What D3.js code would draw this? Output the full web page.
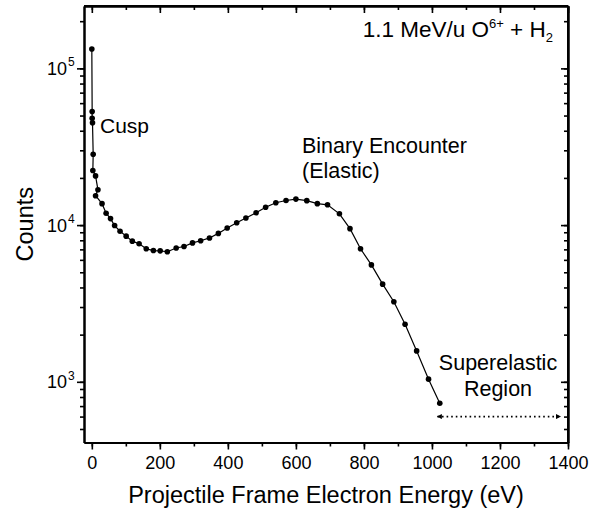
<!DOCTYPE html>
<html>
<head>
<meta charset="utf-8">
<script src="https://cdn.jsdelivr.net/npm/d3@7"></script>
<style>
  body { margin: 0; background: #fff; }
  svg { font-family: "Liberation Sans", Arial, Helvetica, sans-serif; }
  .axis path, .axis line { stroke: #000; }
  .axis path { stroke-width: 2; }
  .axis line { stroke-width: 1.6; }
</style>
</head>
<body>
<svg width="608" height="518"></svg>
<script>
// electron energy (eV) and counts
const energy = [0, 1, 1, 2, 4, 3, 11, 18, 11, 30, 42, 55, 67, 83, 101, 119, 139, 160, 181, 201,
  222, 248, 271, 296, 320, 346, 372, 398, 426, 453, 483, 511, 541, 571, 600, 632, 663, 693,
  728, 759, 790, 822, 855, 888, 921, 955, 990, 1023];
const counts = [133000, 53000, 48000, 45000, 28300, 22300, 20600, 16800, 15400, 13700, 11900, 11000,
  9930, 9130, 8500, 7900, 7600, 7060, 6880, 6850, 6760, 7140, 7300, 7700, 7950, 8280, 8850, 9590,
  10350, 11100, 12000, 13000, 13880, 14350, 14650, 14320, 13700, 13470, 11800, 9490, 7060, 5570,
  4200, 3240, 2330, 1575, 1040, 730];

const xTicks = [0, 200, 400, 600, 800, 1000, 1200, 1400];
const yTickExps = [3, 4, 5];

const mLeft = 84, mRight = 568, mTop = 6, mBottom = 442.5;

const svg = d3.select('svg');

const x = d3.scaleLinear().domain([-23, 1400]).range([mLeft, mRight]);
const y = d3.scaleLog().domain([410, 250000]).range([mBottom, mTop]);

const minorX = d3.range(0, 1401, 100);
const minorY = [];
[100, 1000, 10000, 100000].forEach((d) => {
    for (let k = 1; k < 10; k++) {
        const v = d * k;
        if (v >= 410 && v <= 250000) minorY.push(v);
    }
});

// minor ticks first, then major ticks with the frame
svg.append('g').attr('class', 'axis')
    .attr('transform', `translate(0, ${mBottom})`)
    .call(d3.axisBottom(x).tickValues(minorX).tickSize(4).tickSizeOuter(0).tickFormat(''));
svg.append('g').attr('class', 'axis')
    .attr('transform', `translate(0, ${mTop})`)
    .call(d3.axisBottom(x).tickValues(minorX).tickSize(4).tickSizeOuter(0).tickFormat(''));
svg.append('g').attr('class', 'axis')
    .attr('transform', `translate(${mLeft}, 0)`)
    .call(d3.axisLeft(y).tickValues(minorY).tickSize(4).tickSizeOuter(0).tickFormat(''));
svg.append('g').attr('class', 'axis')
    .attr('transform', `translate(${mRight}, 0)`)
    .call(d3.axisLeft(y).tickValues(minorY).tickSize(4).tickSizeOuter(0).tickFormat(''));

const xAxis = svg.append('g').attr('class', 'axis')
    .attr('transform', `translate(0, ${mBottom})`)
    .call(d3.axisBottom(x).tickValues(xTicks).tickSize(7).tickSizeOuter(0).tickPadding(7)
        .tickFormat(d3.format('d')));
xAxis.selectAll('text')
    .attr('font-size', 18)
    .attr('font-family', '"Liberation Sans", Arial, sans-serif')
    .attr('fill', '#000');

svg.append('g').attr('class', 'axis')
    .attr('transform', `translate(0, ${mTop})`)
    .call(d3.axisBottom(x).tickValues(xTicks).tickSize(7).tickSizeOuter(0).tickFormat(''));

svg.append('g').attr('class', 'axis')
    .attr('transform', `translate(${mLeft}, 0)`)
    .call(d3.axisLeft(y).tickValues(yTickExps.map((e) => Math.pow(10, e))).tickSize(7).tickSizeOuter(0).tickFormat(''));
svg.append('g').attr('class', 'axis')
    .attr('transform', `translate(${mRight}, 0)`)
    .call(d3.axisLeft(y).tickValues(yTickExps.map((e) => Math.pow(10, e))).tickSize(7).tickSizeOuter(0).tickFormat(''));

// y labels as 10 with a raised exponent
yTickExps.forEach((e) => {
    svg.append('text')
        .attr('x', 67)
        .attr('y', y(Math.pow(10, e)) + 6.5)
        .attr('text-anchor', 'end')
        .attr('font-size', 18)
        .text('10');
    svg.append('text')
        .attr('x', 68)
        .attr('y', y(Math.pow(10, e)) - 2)
        .attr('font-size', 12)
        .text(e);
});

// frame lines
svg.append('line').attr('x1', mLeft).attr('x2', mRight).attr('y1', mTop).attr('y2', mTop)
    .attr('stroke', '#000').attr('stroke-width', 2);
svg.append('line').attr('x1', mRight).attr('x2', mRight).attr('y1', mTop).attr('y2', mBottom)
    .attr('stroke', '#000').attr('stroke-width', 2);

// data
const pts = energy.map((e, i) => ({ e: e, c: counts[i] }));
const line = d3.line().x((d) => x(d.e)).y((d) => y(d.c));
svg.append('path')
    .datum(pts)
    .attr('d', line)
    .attr('fill', 'none')
    .attr('stroke', '#000')
    .attr('stroke-width', 1.2);
svg.selectAll('circle.pt')
    .data(pts)
    .enter()
    .append('circle')
    .attr('class', 'pt')
    .attr('cx', (d) => x(d.e))
    .attr('cy', (d) => y(d.c))
    .attr('r', 2.8)
    .attr('fill', '#000');

// axis titles
svg.append('text')
    .attr('x', (mLeft + mRight) / 2)
    .attr('y', 503)
    .attr('text-anchor', 'middle')
    .attr('font-size', 23.5)
    .text('Projectile Frame Electron Energy (eV)');

svg.append('text')
    .attr('transform', `translate(33, ${(mTop + mBottom) / 2}) rotate(-90)`)
    .attr('text-anchor', 'middle')
    .attr('font-size', 23.5)
    .text('Counts');

// annotations
const title = svg.append('text')
    .attr('x', 553)
    .attr('y', 37)
    .attr('text-anchor', 'end')
    .attr('font-size', 22.5);
title.append('tspan').text('1.1 MeV/u O');
title.append('tspan').attr('font-size', 13).attr('dy', -9).text('6+');
title.append('tspan').attr('dy', 9).text(' + H');
title.append('tspan').attr('font-size', 13).attr('dy', 5).text('2');

svg.append('text').attr('x', 100).attr('y', 133).attr('font-size', 21).text('Cusp');
svg.append('text').attr('x', 302).attr('y', 153).attr('font-size', 21.5).text('Binary Encounter');
svg.append('text').attr('x', 302).attr('y', 178).attr('font-size', 21.5).text('(Elastic)');
svg.append('text').attr('x', 498).attr('y', 370).attr('font-size', 21.5)
    .attr('text-anchor', 'middle').text('Superelastic');
svg.append('text').attr('x', 498).attr('y', 396).attr('font-size', 21.5)
    .attr('text-anchor', 'middle').text('Region');

// dotted double arrow for the superelastic region
const defs = svg.append('defs');
defs.append('marker')
    .attr('id', 'ah')
    .attr('viewBox', '0 0 10 10')
    .attr('refX', 9).attr('refY', 5)
    .attr('markerWidth', 7).attr('markerHeight', 5)
    .attr('markerUnits', 'userSpaceOnUse')
    .attr('orient', 'auto-start-reverse')
    .append('path').attr('d', 'M0,0 L10,5 L0,10 Z').attr('fill', '#000');

svg.append('line')
    .attr('x1', x(1016)).attr('x2', x(1378))
    .attr('y1', y(600)).attr('y2', y(600))
    .attr('stroke', '#000')
    .attr('stroke-width', 1.6)
    .attr('stroke-dasharray', '1.6,3')
    .attr('marker-start', 'url(#ah)')
    .attr('marker-end', 'url(#ah)');
</script>
</body>
</html>
